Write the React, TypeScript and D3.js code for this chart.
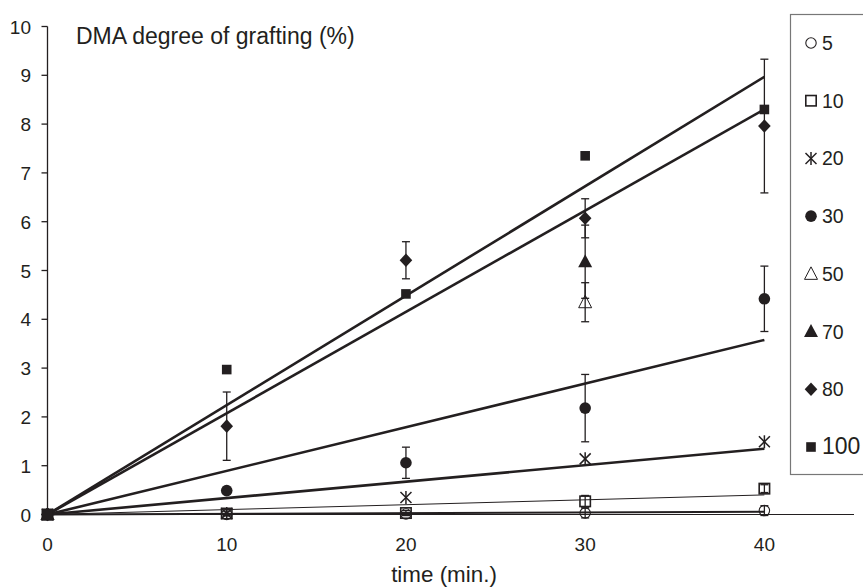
import React from "react";
import * as d3 from "d3";

const times = [0, 10, 20, 30, 40];
const times2 = [0, 30];
const s5 = [0, 0.0, 0.01, 0.03, 0.08];
const e5 = [0, 0.02, 0.03, 0.1, 0.1];
const s10 = [0, 0.02, 0.03, 0.27, 0.53];
const e10 = [0, 0.05, 0.05, 0.12, 0.08];
const s20 = [0, 0.02, 0.35, 1.14, 1.49];
const e20 = [0, 0, 0, 0, 0];
const s30 = [0, 0.49, 1.06, 2.18, 4.42];
const e30 = [0, 0, 0.32, 0.69, 0.67];
const s50 = [0, 4.35];
const e50 = [0, 0.4];
const s70 = [0, 5.18];
const e70 = [0, 0.75];
const s80 = [0, 1.81, 5.21, 6.07, 7.96];
const e80 = [0, 0.7, 0.38, 0.4, 1.37];
const s100 = [0, 2.97, 4.52, 7.35, 8.3];
const e100 = [0, 0, 0, 0, 0];

const legendLabels = ["5", "10", "20", "30", "50", "70", "80", "100"];
const xTicks = [0, 10, 20, 30, 40];
const yTicks = [0, 1, 2, 3, 4, 5, 6, 7, 8, 9, 10];
const yTitle = "DMA degree of grafting (%)";
const xTitle = "time (min.)";

const INK = "#231f20";
const FONT = "Liberation Sans, Arial, sans-serif";

type Series = { label: string; t: number[]; v: number[]; e: number[]; marker: string; trend: boolean; lw: number };
const series: Series[] = [
  { label: "5", t: times, v: s5, e: e5, marker: "circleOpen", trend: true, lw: 2 },
  { label: "10", t: times, v: s10, e: e10, marker: "squareOpen", trend: true, lw: 1 },
  { label: "20", t: times, v: s20, e: e20, marker: "star", trend: true, lw: 2.6 },
  { label: "30", t: times, v: s30, e: e30, marker: "circle", trend: true, lw: 2.6 },
  { label: "50", t: times2, v: s50, e: e50, marker: "triangleOpen", trend: false, lw: 0 },
  { label: "70", t: times2, v: s70, e: e70, marker: "triangle", trend: false, lw: 0 },
  { label: "80", t: times, v: s80, e: e80, marker: "diamond", trend: true, lw: 2.6 },
  { label: "100", t: times, v: s100, e: e100, marker: "square", trend: true, lw: 2.6 },
];

function Marker({ kind, cx, cy }: { kind: string; cx: number; cy: number }) {
  switch (kind) {
    case "circleOpen":
      return <circle cx={cx} cy={cy} r={5.2} fill="none" stroke={INK} strokeWidth={1.1} />;
    case "circle":
      return <circle cx={cx} cy={cy} r={5.8} fill={INK} />;
    case "squareOpen":
      return <rect x={cx - 5.2} y={cy - 5.2} width={10.4} height={10.4} fill="none" stroke={INK} strokeWidth={1.6} />;
    case "square":
      return <rect x={cx - 4.8} y={cy - 4.8} width={9.6} height={9.6} fill={INK} />;
    case "diamond":
      return <path d={`M${cx},${cy - 6.8}L${cx + 6.3},${cy}L${cx},${cy + 6.8}L${cx - 6.3},${cy}Z`} fill={INK} />;
    case "triangle":
      return <path d={`M${cx},${cy - 7.5}L${cx + 7},${cy + 5.5}L${cx - 7},${cy + 5.5}Z`} fill={INK} />;
    case "triangleOpen":
      return <path d={`M${cx},${cy - 7}L${cx + 6.5},${cy + 5.5}L${cx - 6.5},${cy + 5.5}Z`} fill="none" stroke={INK} strokeWidth={1} />;
    case "star":
      return (
        <g stroke={INK} strokeWidth={1.5}>
          <line x1={cx - 5.5} y1={cy - 5.5} x2={cx + 5.5} y2={cy + 5.5} />
          <line x1={cx - 5.5} y1={cy + 5.5} x2={cx + 5.5} y2={cy - 5.5} />
          <line x1={cx} y1={cy - 6.5} x2={cx} y2={cy + 6.5} />
        </g>
      );
    default:
      return null;
  }
}

export default function App() {
  const W = 863, H = 588;
  const x = d3.scaleLinear().domain([0, 45]).range([47.5, 854]);
  const y = d3.scaleLinear().domain([0, 10]).range([514.5, 26.5]);
  const line = d3.line<[number, number]>().x((d) => x(d[0])).y((d) => y(d[1]));

  const slope = (s: Series) => {
    const sxy = d3.sum(s.t.map((t, i) => t * s.v[i]));
    const sxx = d3.sum(s.t.map((t) => t * t));
    return sxy / sxx;
  };
  const tMax = d3.max(times) as number;
  const legendY = d3.scaleLinear().domain([0, legendLabels.length - 1]).range([43, 447]);

  return (
    <svg width={W} height={H} style={{ position: "absolute", left: 0, top: 0, background: "#fff" }} fontFamily={FONT}>
      {/* axes */}
      <line x1={x(0)} y1={y(0)} x2={x(45)} y2={y(0)} stroke={INK} strokeWidth={1} />
      <line x1={x(0)} y1={y(10)} x2={x(0)} y2={y(0) + 5} stroke={INK} strokeWidth={1.3} />
      {yTicks.map((t) => (
        <g key={t}>
          <line x1={x(0) - 6} x2={x(0)} y1={y(t)} y2={y(t)} stroke={INK} strokeWidth={1.3} />
          <text x={31} y={y(t) + 7} textAnchor="end" fontSize={19} fill={INK}>{t}</text>
        </g>
      ))}
      {xTicks.map((t) => (
        <text key={t} x={x(t)} y={551} textAnchor="middle" fontSize={19} fill={INK}>{t}</text>
      ))}
      <text x={444} y={581.5} textAnchor="middle" fontSize={22.4} fill={INK}>{xTitle}</text>
      <text x={76} y={44} fontSize={23} fill={INK}>{yTitle}</text>

      {/* trend lines */}
      {series.filter((s) => s.trend).map((s) => {
        const k = slope(s);
        return <path key={"l" + s.label} d={line([[0, 0], [tMax, k * tMax]]) as string} fill="none" stroke={INK} strokeWidth={s.lw} />;
      })}

      {/* error bars */}
      {series.map((s) =>
        s.t.map((t, i) =>
          s.e[i] > 0 ? (
            <g key={"e" + s.label + i} stroke={INK} strokeWidth={1.3}>
              <line x1={x(t)} x2={x(t)} y1={y(s.v[i] + s.e[i])} y2={y(s.v[i] - s.e[i])} />
              <line x1={x(t) - 4} x2={x(t) + 4} y1={y(s.v[i] + s.e[i])} y2={y(s.v[i] + s.e[i])} />
              <line x1={x(t) - 4} x2={x(t) + 4} y1={y(s.v[i] - s.e[i])} y2={y(s.v[i] - s.e[i])} />
            </g>
          ) : null
        )
      )}

      {/* markers */}
      {series.map((s) =>
        s.t.map((t, i) => <Marker key={"m" + s.label + i} kind={s.marker} cx={x(t)} cy={y(s.v[i])} />)
      )}

      {/* legend */}
      <rect x={790.5} y={14.5} width={100} height={460} fill="#fff" stroke="#777" strokeWidth={1.2} />
      {series.map((s, i) => (
        <g key={"lg" + s.label}>
          <Marker kind={s.marker} cx={811} cy={legendY(i)} />
          <text x={822} y={legendY(i) + 7} fontSize={s.label === "100" ? 23 : 19.5} fill={INK}>{legendLabels[i]}</text>
        </g>
      ))}
    </svg>
  );
}
